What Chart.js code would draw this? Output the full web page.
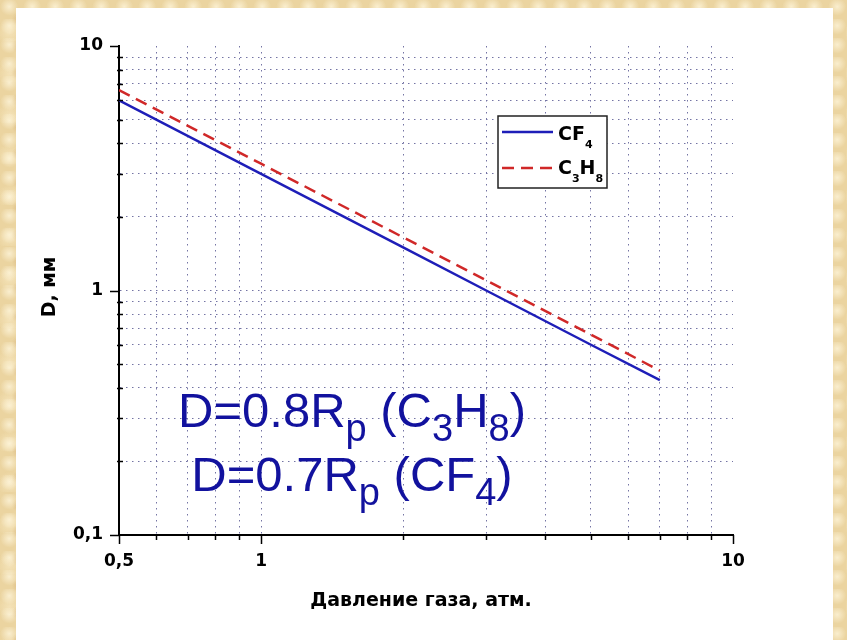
<!DOCTYPE html>
<html>
<head>
<meta charset="utf-8">
<script src="https://cdn.jsdelivr.net/npm/chart.js@4.4.0/dist/chart.umd.min.js"></script>
<style>
  html, body { margin: 0; padding: 0; }
  body {
    width: 847px; height: 640px; overflow: hidden; position: relative;
    background-color: #ebd4a0;
    background-image:
      radial-gradient(circle at 40% 35%, rgba(255, 247, 222, 0.75) 0, rgba(255, 247, 222, 0) 9px),
      radial-gradient(circle at 60% 70%, rgba(196, 152, 92, 0.35) 0, rgba(196, 152, 92, 0) 7px),
      radial-gradient(circle at 20% 80%, rgba(250, 236, 200, 0.6) 0, rgba(250, 236, 200, 0) 12px);
    background-size: 23px 19px, 31px 27px, 47px 41px;
  }
  #painel { position: absolute; left: 16px; top: 8px; width: 817px; height: 632px; background: #fff; }
  #grafico { position: absolute; left: 0; top: 0; }
</style>
</head>
<body>
<div id="painel"></div>
<canvas id="grafico" width="847" height="640"></canvas>
<script>
const pressao = [0.5, 1, 2, 3, 5, 7];
const diametroCF4 = [6.0, 3.0, 1.5, 1.0, 0.6, 0.43];
const diametroC3H8 = [6.6, 3.3, 1.65, 1.1, 0.66, 0.47];

const xTicks = [0.5, 0.6, 0.7, 0.8, 0.9, 1, 2, 3, 4, 5, 6, 7, 8, 9, 10];
const xTickLabels = ['0,5', '', '', '', '', '1', '', '', '', '', '', '', '', '', '10'];
const yTicks = [0.1, 0.2, 0.3, 0.4, 0.5, 0.6, 0.7, 0.8, 0.9, 1, 2, 3, 4, 5, 6, 7, 8, 9, 10];
const yTickLabels = ['0,1', '', '', '', '', '', '', '', '', '1', '', '', '', '', '', '', '', '', '10'];

// partes: indice par = texto normal, indice impar = subscrito
const legendaTextos = [['CF', '4'], ['C', '3', 'H', '8']];
const formulas = [
  ['D=0.8R', 'p', ' (C', '3', 'H', '8', ')'],
  ['D=0.7R', 'p', ' (CF', '4', ')']
];

const corAzul = '#1e1eb8';
const corVermelha = '#d02828';
const corGrade = '#7474a4';
const corFormula = '#12129e';

function escreverPartes(ctx, partes, x, base, fonteNormal, fonteSub, desloc, centrar) {
  let largura = 0;
  partes.forEach((p, i) => {
    ctx.font = i % 2 ? fonteSub : fonteNormal;
    largura += ctx.measureText(p).width;
  });
  let pos = centrar ? x - largura / 2 : x;
  partes.forEach((p, i) => {
    ctx.font = i % 2 ? fonteSub : fonteNormal;
    ctx.fillText(p, pos, base + (i % 2 ? desloc : 0));
    pos += ctx.measureText(p).width;
  });
}

const desenhos = {
  id: 'desenhos',
  afterDraw(chart) {
    const ctx = chart.ctx;
    const area = chart.chartArea;
    const xs = chart.scales.x, ys = chart.scales.y;
    ctx.save();

    // marcas dos eixos
    ctx.strokeStyle = '#000';
    ctx.lineWidth = 1.5;
    xTicks.forEach((v, i) => {
      const px = Math.round(xs.getPixelForValue(v)) + 0.5;
      const maior = xTickLabels[i] !== '';
      ctx.beginPath();
      ctx.moveTo(px, area.bottom - (maior ? 0 : 1));
      ctx.lineTo(px, area.bottom + (maior ? 9 : 5));
      ctx.stroke();
    });
    yTicks.forEach((v, i) => {
      const py = Math.round(ys.getPixelForValue(v)) + 0.5;
      const maior = yTickLabels[i] !== '';
      ctx.beginPath();
      if (maior) {
        ctx.moveTo(area.left - 9, py);
        ctx.lineTo(area.left, py);
      } else {
        ctx.moveTo(area.left - 2, py);
        ctx.lineTo(area.left + 4, py);
      }
      ctx.stroke();
    });

    // titulos dos eixos
    ctx.fillStyle = '#000';
    ctx.textBaseline = 'middle';
    ctx.textAlign = 'center';
    ctx.font = 'bold 19px "DejaVu Sans"';
    ctx.fillText('Давление газа, атм.', 421, 601);
    ctx.save();
    ctx.translate(50, 287);
    ctx.rotate(-Math.PI / 2);
    ctx.fillText('D, мм', 0, 0);
    ctx.restore();

    // legenda
    ctx.fillStyle = '#fff';
    ctx.fillRect(498, 116, 109, 72);
    ctx.strokeStyle = '#222';
    ctx.lineWidth = 1.5;
    ctx.strokeRect(498, 116, 109, 72);
    const linhasY = [132, 168];
    const bases = [140, 174];
    chart.data.datasets.forEach((ds, i) => {
      ctx.strokeStyle = ds.borderColor;
      ctx.lineWidth = ds.borderWidth;
      ctx.setLineDash(ds.borderDash || []);
      ctx.beginPath();
      ctx.moveTo(502, linhasY[i]);
      ctx.lineTo(553, linhasY[i]);
      ctx.stroke();
      ctx.setLineDash([]);
      ctx.fillStyle = '#000';
      ctx.textAlign = 'left';
      ctx.textBaseline = 'alphabetic';
      escreverPartes(ctx, legendaTextos[i], 558, bases[i], 'bold 19px "DejaVu Sans"', 'bold 11px "DejaVu Sans"', 8, false);
    });

    // formulas
    ctx.fillStyle = corFormula;
    ctx.textAlign = 'left';
    ctx.textBaseline = 'alphabetic';
    escreverPartes(ctx, formulas[0], 352, 427, '49px "Liberation Sans"', '38px "Liberation Sans"', 14, true);
    escreverPartes(ctx, formulas[1], 352, 491, '49px "Liberation Sans"', '38px "Liberation Sans"', 14, true);

    ctx.restore();
  }
};

const fonteTicks = { family: 'DejaVu Sans', weight: 'bold', size: 17 };

new Chart(document.getElementById('grafico').getContext('2d'), {
  type: 'line',
  data: {
    datasets: [
      {
        label: 'CF4',
        data: pressao.map((p, i) => ({ x: p, y: diametroCF4[i] })),
        borderColor: corAzul,
        borderWidth: 2.5,
        pointRadius: 0,
        fill: false
      },
      {
        label: 'C3H8',
        data: pressao.map((p, i) => ({ x: p, y: diametroC3H8[i] })),
        borderColor: corVermelha,
        borderWidth: 2.5,
        borderDash: [12, 7],
        pointRadius: 0,
        fill: false
      }
    ]
  },
  options: {
    responsive: false,
    animation: false,
    devicePixelRatio: 1,
    layout: { padding: { top: 46, right: 114, left: 0, bottom: 0 } },
    plugins: { legend: { display: false }, tooltip: { enabled: false } },
    scales: {
      x: {
        type: 'logarithmic',
        min: 0.5,
        max: 10,
        afterBuildTicks: s => { s.ticks = xTicks.map(v => ({ value: v })); },
        afterFit: s => { s.height = 105; },
        ticks: {
          autoSkip: false, maxRotation: 0, padding: 16, color: '#000', font: fonteTicks,
          callback: (v, i) => xTickLabels[i]
        },
        grid: {
          drawTicks: false,
          lineWidth: 1,
          color: c => (c.tick && c.tick.value === 10) ? 'rgba(0,0,0,0)' : corGrade
        },
        border: { display: true, color: '#000', width: 2, dash: [1.5, 4.5] }
      },
      y: {
        type: 'logarithmic',
        min: 0.1,
        max: 10,
        afterBuildTicks: s => { s.ticks = yTicks.map(v => ({ value: v })); },
        afterFit: s => { s.width = 119; },
        ticks: {
          autoSkip: false, padding: 16, color: '#000', font: fonteTicks,
          callback: (v, i) => yTickLabels[i]
        },
        grid: {
          drawTicks: false,
          lineWidth: 1,
          color: c => (c.tick && c.tick.value === 10) ? 'rgba(0,0,0,0)' : corGrade
        },
        border: { display: true, color: '#000', width: 2, dash: [1.5, 4.5] }
      }
    }
  },
  plugins: [desenhos]
});
</script>
</body>
</html>
